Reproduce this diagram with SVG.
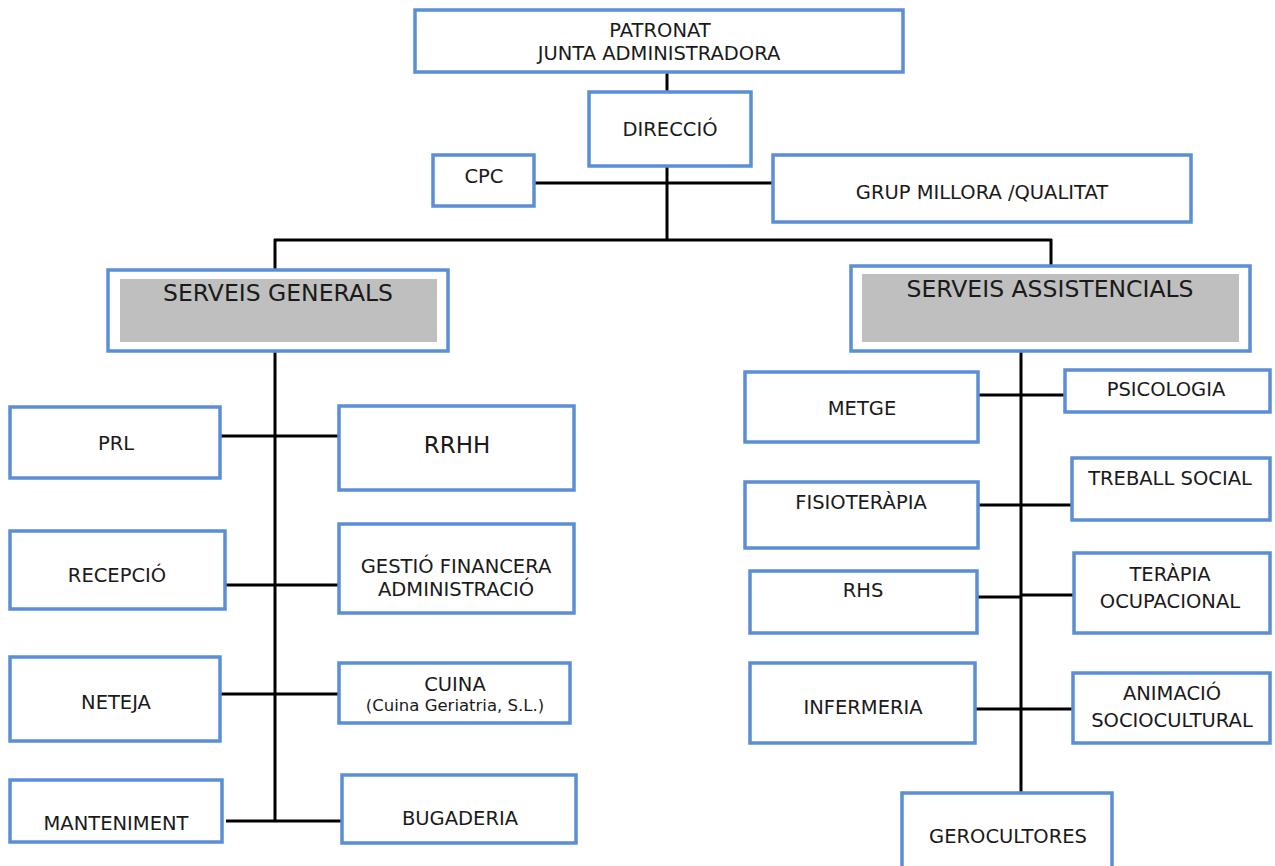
<svg xmlns="http://www.w3.org/2000/svg" width="1275" height="866" viewBox="0 0 1275 866">
<style>
.b{fill:#fff;stroke:#5A8FD6;stroke-width:3.5}
.g{fill:#BFBFBF;stroke:none}
.t{font-family:"DejaVu Sans",Verdana,sans-serif;font-size:19.5px;fill:#1a1a1a;text-anchor:middle}
.big{font-size:23.5px}
.rr{font-size:23px}
.sm{font-size:16.5px}
.c line{stroke:#000;stroke-width:3}
</style>
<rect width="1275" height="866" fill="#fff"/>
<g class="c" id="connectors">
<line x1="667" y1="72" x2="667" y2="92"/>
<line x1="667" y1="166" x2="667" y2="241"/>
<line x1="534" y1="183" x2="773" y2="183"/>
<line x1="274" y1="240" x2="1052" y2="240"/>
<line x1="275" y1="239" x2="275" y2="270"/>
<line x1="1051" y1="239" x2="1051" y2="267"/>
<line x1="275" y1="351" x2="275" y2="822"/>
<line x1="220" y1="436" x2="340" y2="436"/>
<line x1="225" y1="585" x2="340" y2="585"/>
<line x1="220" y1="694" x2="340" y2="694"/>
<line x1="226" y1="821" x2="342" y2="821"/>
<line x1="1021" y1="351" x2="1021" y2="793"/>
<line x1="972" y1="395" x2="1067" y2="395"/>
<line x1="976" y1="505" x2="1073" y2="505"/>
<line x1="972" y1="597" x2="1021" y2="597"/>
<line x1="1021" y1="595" x2="1075" y2="595"/>
<line x1="971" y1="709" x2="1073" y2="709"/>
</g>
<g id="patronat"><rect class="b" x="415" y="10" width="488" height="62"/><text class="t" x="660" y="37">PATRONAT</text><text class="t" x="659" y="60">JUNTA ADMINISTRADORA</text></g>
<g id="direccio"><rect class="b" x="589" y="92" width="162" height="74"/><text class="t" x="670" y="136">DIRECCIÓ</text></g>
<g id="cpc"><rect class="b" x="433" y="155" width="101" height="51"/><text class="t" x="484" y="183">CPC</text></g>
<g id="grup"><rect class="b" x="773" y="155" width="418" height="67"/><text class="t" x="982" y="199">GRUP MILLORA /QUALITAT</text></g>
<g id="serveis-generals"><rect class="b" x="108" y="270" width="340" height="81"/><rect class="g" x="120" y="279" width="317" height="63"/><text class="t big" x="278" y="301">SERVEIS GENERALS</text></g>
<g id="serveis-assistencials"><rect class="b" x="851" y="266" width="399" height="85"/><rect class="g" x="862" y="274" width="377" height="68"/><text class="t big" x="1050" y="297">SERVEIS ASSISTENCIALS</text></g>
<g id="prl"><rect class="b" x="10" y="407" width="210" height="71"/><text class="t" x="116" y="450">PRL</text></g>
<g id="rrhh"><rect class="b" x="339" y="406" width="235" height="84"/><text class="t rr" x="457" y="453">RRHH</text></g>
<g id="recepcio"><rect class="b" x="10" y="531" width="215" height="78"/><text class="t" x="117" y="582">RECEPCIÓ</text></g>
<g id="gestio"><rect class="b" x="339" y="524" width="235" height="89"/><text class="t" x="456" y="573">GESTIÓ FINANCERA</text><text class="t" x="456" y="596">ADMINISTRACIÓ</text></g>
<g id="neteja"><rect class="b" x="10" y="657" width="210" height="84"/><text class="t" x="116" y="709">NETEJA</text></g>
<g id="cuina"><rect class="b" x="339" y="663" width="231" height="60"/><text class="t" x="455" y="691">CUINA</text><text class="t sm" x="455" y="711">(Cuina Geriatria, S.L.)</text></g>
<g id="manteniment"><rect class="b" x="10" y="780" width="212" height="62"/><text class="t" x="116" y="830">MANTENIMENT</text></g>
<g id="bugaderia"><rect class="b" x="342" y="775" width="234" height="68"/><text class="t" x="460" y="825">BUGADERIA</text></g>
<g id="metge"><rect class="b" x="745" y="372" width="233" height="70"/><text class="t" x="862" y="415">METGE</text></g>
<g id="psicologia"><rect class="b" x="1065" y="370" width="205" height="42"/><text class="t" x="1166" y="396">PSICOLOGIA</text></g>
<g id="fisioterapia"><rect class="b" x="745" y="482" width="233" height="66"/><text class="t" x="861" y="509">FISIOTERÀPIA</text></g>
<g id="treball-social"><rect class="b" x="1072" y="458" width="198" height="62"/><text class="t" x="1170" y="485">TREBALL SOCIAL</text></g>
<g id="rhs"><rect class="b" x="750" y="571" width="227" height="62"/><text class="t" x="863" y="597">RHS</text></g>
<g id="terapia"><rect class="b" x="1074" y="553" width="196" height="80"/><text class="t" x="1170" y="581">TERÀPIA</text><text class="t" x="1170" y="608">OCUPACIONAL</text></g>
<g id="infermeria"><rect class="b" x="750" y="663" width="225" height="80"/><text class="t" x="863" y="714">INFERMERIA</text></g>
<g id="animacio"><rect class="b" x="1073" y="673" width="197" height="70"/><text class="t" x="1172" y="700">ANIMACIÓ</text><text class="t" x="1172" y="727">SOCIOCULTURAL</text></g>
<g id="gerocultores"><rect class="b" x="902" y="793" width="210" height="80"/><text class="t" x="1008" y="843">GEROCULTORES</text></g>
</svg>
